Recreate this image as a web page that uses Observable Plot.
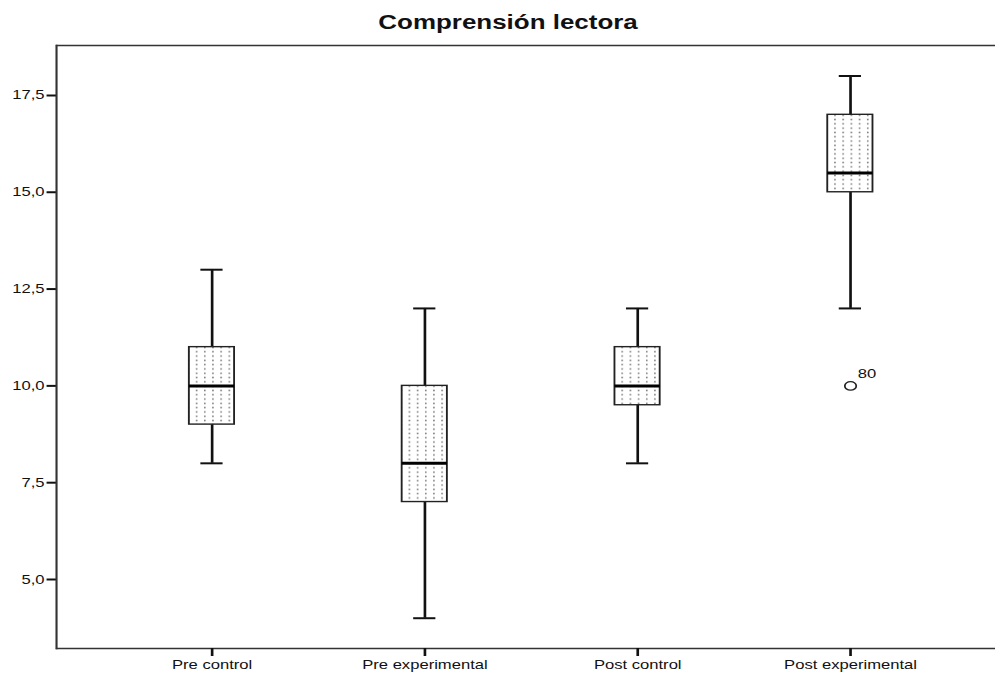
<!DOCTYPE html>
<html>
<head>
<meta charset="utf-8">
<script src="https://cdn.jsdelivr.net/npm/d3@7"></script>
<script src="https://cdn.jsdelivr.net/npm/@observablehq/plot@0.6"></script>
<style>
  html, body { margin: 0; padding: 0; background: #fff; overflow: hidden; width: 995px; height: 673px; }
  #clip { width: 995px; height: 673px; overflow: hidden; position: relative; }
  #wrap { position: absolute; left: 0; top: 0; width: 749px; transform: scaleX(1.33); transform-origin: 0 0; }
  #title { width: 764px; height: 40px; box-sizing: border-box; padding-top: 13px; text-align: center;
           font-family: "Liberation Sans", Arial, sans-serif; font-weight: bold; font-size: 19.5px; line-height: 1; color: #111; }
</style>
</head>
<body>
<div id="clip">
<div id="wrap">
  <div id="title">Comprensión lectora</div>
  <div id="chart"></div>
</div>
</div>
<script>
const groups   = ["Pre control", "Pre experimental", "Post control", "Post experimental"];
const mins     = [8, 4, 8, 12];
const q1s      = [9, 7, 9.5, 15];
const medians  = [10, 8, 10, 15.5];
const q3s      = [11, 10, 11, 17];
const maxs     = [13, 12, 12, 18];
const outlierGroups = ["Post experimental"];
const outlierValues = [10];
const outlierLabels = ["80"];
const yTicks = [5, 7.5, 10, 12.5, 15, 17.5];
const yDomain = [3.218, 18.79];

const table = groups.map((g, i) => ({group: g, min: mins[i], q1: q1s[i], median: medians[i], q3: q3s[i], max: maxs[i]}));
const outliers = outlierGroups.map((g, i) => ({group: g, value: outlierValues[i], label: outlierLabels[i]}));

const fmt = d => d.toFixed(1).replace(".", ",");

const plot = Plot.plot({
  width: 749,
  height: 633,
  marginTop: 5,
  marginBottom: 25,
  marginLeft: 42,
  marginRight: 0,
  style: {fontFamily: "'Liberation Sans', Arial, sans-serif", fontSize: "12.5px", color: "#111", background: "#fff"},
  x: {type: "band", domain: groups, range: [77.6, 720.1], paddingInner: 0.79, paddingOuter: 0.395},
  y: {domain: yDomain},
  marks: [
    Plot.ruleY(yDomain, {stroke: "#333", strokeWidth: 1.6}),
    Plot.frame({anchor: "left", stroke: "#333", strokeWidth: 1.6}),
    Plot.axisY({ticks: yTicks, tickFormat: fmt, tickSize: 7, tickPadding: 2, strokeWidth: 2, label: null, fontSize: 12.5}),
    Plot.axisX({tickSize: 8, tickPadding: 4, strokeWidth: 2, label: null, fontSize: 12.5}),
    Plot.ruleX(table, {x: "group", y1: "min", y2: "q1", stroke: "#111", strokeWidth: 2}),
    Plot.ruleX(table, {x: "group", y1: "q3", y2: "max", stroke: "#111", strokeWidth: 2}),
    Plot.tickY(table, {x: "group", y: "min", insetLeft: 8.65, insetRight: 8.65, stroke: "#111", strokeWidth: 2}),
    Plot.tickY(table, {x: "group", y: "max", insetLeft: 8.65, insetRight: 8.65, stroke: "#111", strokeWidth: 2}),
    Plot.barY(table, {x: "group", y1: "q1", y2: "q3", fill: "url(#dots)", stroke: "#222", strokeWidth: 1.4}),
    Plot.tickY(table, {x: "group", y: "median", stroke: "#000", strokeWidth: 3}),
    Plot.dot(outliers, {x: "group", y: "value", r: 4.3, stroke: "#222", fill: "#fff", strokeWidth: 1.3}),
    Plot.text(outliers, {x: "group", y: "value", text: "label", dx: 5.5, dy: -12, textAnchor: "start", fontSize: 12.5, fill: "#111"})
  ]
});

// dotted fill pattern, aligned to the boxes using the x scale
const xs = plot.scale("x");
const colStep = xs.step / 26;
const firstLeft = xs.apply(groups[0]);
const ns = "http://www.w3.org/2000/svg";
const defs = document.createElementNS(ns, "defs");
const pat = document.createElementNS(ns, "pattern");
pat.setAttribute("id", "dots");
pat.setAttribute("patternUnits", "userSpaceOnUse");
pat.setAttribute("x", firstLeft + 5.2);
pat.setAttribute("y", 0);
pat.setAttribute("width", colStep);
pat.setAttribute("height", 4.3);
const bg = document.createElementNS(ns, "rect");
bg.setAttribute("width", colStep); bg.setAttribute("height", 4.3); bg.setAttribute("fill", "#fff");
const dot = document.createElementNS(ns, "rect");
dot.setAttribute("x", 0); dot.setAttribute("y", 1.4);
dot.setAttribute("width", 1.2); dot.setAttribute("height", 1.5);
dot.setAttribute("fill", "#7a7a7a");
pat.appendChild(bg); pat.appendChild(dot);
defs.appendChild(pat);
plot.insertBefore(defs, plot.firstChild);

document.getElementById("chart").appendChild(plot);
</script>
</body>
</html>
